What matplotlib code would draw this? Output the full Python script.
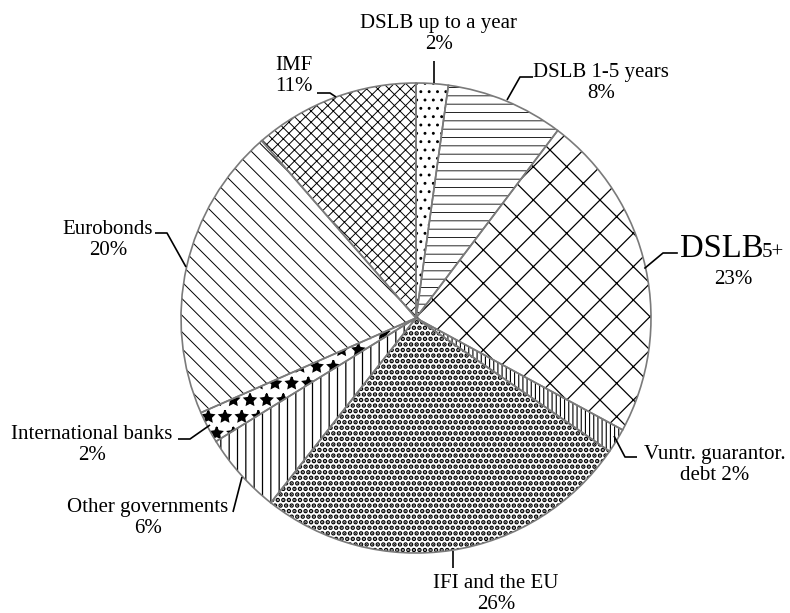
import matplotlib
matplotlib.use("Agg")
import matplotlib.pyplot as plt

# ---- data ----
categories = ["DSLB up to a year", "DSLB 1-5 years", "DSLB 5+", "Vuntr. guarantor. debt",
              "IFI and the EU", "Other governments", "International banks", "Eurobonds", "IMF"]
shares = [2.2, 8.1, 22.6, 1.7, 26.0, 5.6, 2.2, 20.2, 11.4]

# ---- styles ----
hatches = ['..', '--', 'x', '||||', '...', '||', '*', '\\\\', 'xxx']
hatch_lw = [0.9, 0.6, 0.9, 0.8, 2.3, 0.9, 1.3, 0.7, 0.7]

W, H = 790, 613
plt.rcParams['font.family'] = ['Liberation Serif', 'DejaVu Serif']
plt.rcParams['hatch.linewidth'] = 0.9

fig = plt.figure(figsize=(W / 100, H / 100), dpi=100)
ax = fig.add_axes([0, 0, 1, 1])


def P(x, y):
    return (x, H - y)


cx, cy = P(416, 318)
R = 235

wedges, _ = ax.pie(shares, startangle=90, counterclock=False, center=(cx, cy), radius=R,
                   wedgeprops=dict(facecolor='white', edgecolor='black', linewidth=0))
for w, h, lw in zip(wedges, hatches, hatch_lw):
    w.set_hatch(h)
    if hasattr(w, 'set_hatch_linewidth'):
        w.set_hatch_linewidth(lw)
# outline pass
ax.pie(shares, startangle=90, counterclock=False, center=(cx, cy), radius=R,
       wedgeprops=dict(fill=False, edgecolor='#7a7a7a', linewidth=1.2))

ax.set_xlim(0, W)
ax.set_ylim(0, H)
ax.set_aspect('equal')
ax.axis('off')

FS = 15


def pct(v):
    return f"{v:.0f}%"


# label texts built from data
label_specs = [
    (0, f"{categories[0]}\n{pct(shares[0])}", (439, 34), [(434, 61), (434, 83)]),
    (1, f"{categories[1]}\n{pct(shares[1])}", (601, 83), [(533, 77), (520, 77), (507, 100)]),
    (3, f"Vuntr. guarantor.\ndebt {pct(shares[3])}", (715, 465), [(637, 457), (625, 457), (614, 436)]),
    (4, f"{categories[4]}\n{pct(shares[4])}", (496, 594), [(453, 551), (453, 568)]),
    (5, f"{categories[5]}\n{pct(shares[5])}", (148, 518), [(233, 512), (242, 477)]),
    (6, f"{categories[6]}\n{pct(shares[6])}", (92, 445), [(178, 439), (190, 439), (210, 425)]),
    (7, f"{categories[7]}\n{pct(shares[7])}", (108, 240), [(155, 233), (167, 233), (186, 267)]),
    (8, f"{categories[8]}\n{pct(shares[8])}", (294, 76), [(317, 93), (330, 93), (336, 97)]),
]

for i, txt, pos, line in label_specs:
    ax.text(*P(*pos), txt, ha='center', va='center', multialignment='center',
            fontsize=FS, linespacing=1.15, color='black')
    xs = [p[0] for p in line]
    ys = [H - p[1] for p in line]
    ax.plot(xs, ys, color='black', lw=1.2, solid_capstyle='butt')

# DSLB 5+ label (big "DSLB" with small "5+")
ax.text(*P(680, 257), "DSLB", ha='left', va='baseline', fontsize=23.5, color='black')
ax.text(*P(762, 257), "5+", ha='left', va='baseline', fontsize=FS, color='black')
ax.text(*P(733, 280), pct(shares[2]), ha='center', va='center', fontsize=FS, color='black')
line = [(677, 253), (663, 253), (645, 268)]
ax.plot([p[0] for p in line], [H - p[1] for p in line], color='black', lw=1.2)

fig.savefig("out.png", dpi=100)
